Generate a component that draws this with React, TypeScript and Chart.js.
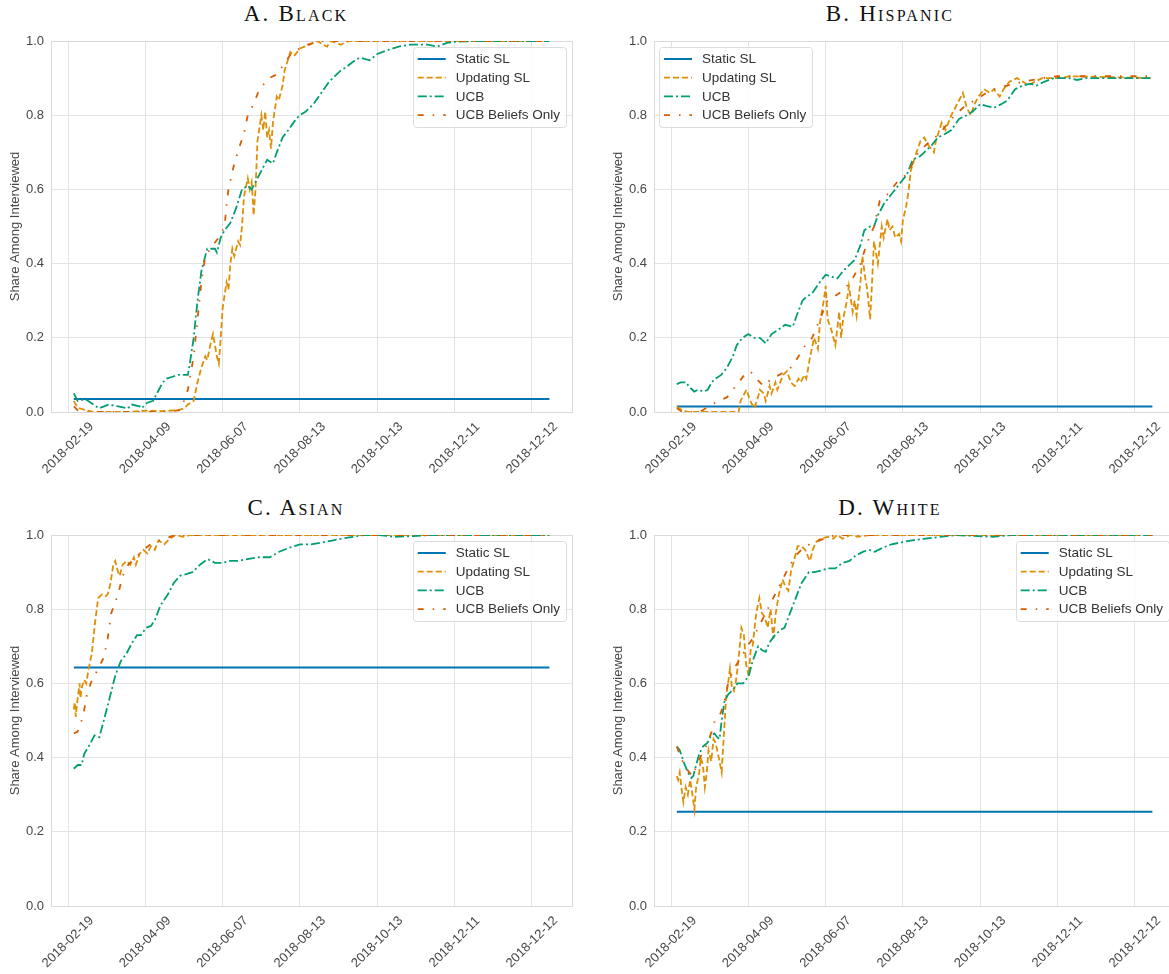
import { useEffect, useRef } from "react";
import { Chart, registerables } from "chart.js";

Chart.register(...registerables);

type Pt = [number, number];

const SANS = "'Liberation Sans', Arial, sans-serif";
const SERIF = "'Liberation Serif', 'DejaVu Serif', serif";

// Shared x axis: observation index, labelled every 40 steps
const tickPositions = [0, 40, 80, 120, 160, 200, 240];
const tickLabels = ["2018-02-19", "2018-04-09", "2018-06-07", "2018-08-13", "2018-10-13", "2018-12-11", "2018-12-12"];
const yTicks = [0, 0.2, 0.4, 0.6, 0.8, 1.0];
const xSpan: Pt = [3, 249];

const seriesNames = ["Static SL", "Updating SL", "UCB", "UCB Beliefs Only"];
const seriesColors = ["#0173b2", "#de8f05", "#029e73", "#d55e00"];
const seriesDashes = [[], [6, 3], [9, 3, 2, 3], [6, 9, 1.5, 9]];
const seriesWidths = [2, 1.8, 1.8, 1.8];

// A. Black
const blackStatic = 0.035;
const blackUpdating: Pt[] = [[3,0.03],[4,0.02],[6,0.01],[9,0.005],[13,0],[30,0],[42,0.004],[48,0.002],[54,0.004],[57,0.005],[60,0.01],[62,0.02],[65,0.03],[67,0.08],[69,0.12],[71,0.15],[72,0.14],[74,0.19],[75,0.21],[76,0.18],[77,0.15],[78,0.13],[79,0.2],[80,0.28],[82,0.35],[83,0.33],[84,0.4],[85,0.44],[86,0.42],[88,0.46],[89,0.45],[90,0.5],[91,0.58],[93,0.63],[94,0.6],[95,0.62],[95.5,0.58],[96,0.53],[97,0.6],[98,0.73],[100,0.8],[101,0.76],[102,0.81],[103,0.74],[104,0.76],[105,0.71],[106,0.78],[108,0.85],[109,0.84],[111,0.88],[112,0.92],[115,0.97],[117,0.96],[120,0.98],[125,0.99],[129,1],[132,0.99],[134,0.985],[136,1],[141,0.99],[145,1],[249,1]];
const blackUCB: Pt[] = [[3,0.05],[5,0.03],[9,0.035],[16,0.01],[21,0.02],[26,0.015],[31,0.01],[33,0.02],[37,0.015],[38,0.01],[41,0.025],[44,0.03],[47,0.06],[49,0.08],[51,0.09],[54,0.095],[57,0.1],[60,0.1],[62,0.1],[63,0.13],[65,0.2],[67,0.3],[69,0.38],[70,0.4],[72,0.44],[76,0.44],[77,0.43],[79,0.47],[81,0.49],[84,0.51],[87,0.55],[90,0.6],[93,0.61],[95,0.6],[97,0.62],[100,0.65],[103,0.68],[106,0.67],[108,0.7],[111,0.74],[114,0.76],[118,0.79],[120,0.8],[123,0.81],[127,0.83],[131,0.86],[135,0.89],[141,0.92],[144,0.93],[149,0.95],[151,0.955],[156,0.948],[160,0.965],[165,0.975],[171,0.985],[177,0.99],[186,0.99],[191,0.985],[196,0.995],[200,0.998],[210,1],[249,1]];
const blackBeliefs: Pt[] = [[3,0.015],[5,0.005],[10,0],[50,0],[58,0.005],[60,0.03],[62,0.06],[65,0.15],[67,0.25],[69,0.35],[71,0.42],[75,0.45],[78,0.47],[81,0.5],[82,0.56],[83,0.6],[86,0.67],[89,0.72],[91,0.75],[93,0.8],[96,0.83],[99,0.87],[104,0.9],[108,0.91],[112,0.94],[116,0.97],[120,0.98],[124,0.99],[130,1],[249,1]];

// B. Hispanic
const hispanicStatic = 0.015;
const hispanicUpdating: Pt[] = [[3,0.015],[4,0.01],[6,0.005],[9,0],[35,0],[36,0.03],[38,0.05],[39,0.06],[41,0.03],[43,0.01],[45,0.04],[46,0.06],[48,0.05],[49,0.03],[51,0.07],[52,0.05],[54,0.08],[55,0.06],[58,0.1],[60,0.11],[62,0.08],[64,0.07],[66,0.09],[67,0.08],[69,0.1],[70,0.09],[72,0.15],[74,0.2],[76,0.17],[77,0.24],[79,0.3],[80,0.34],[81,0.25],[83,0.22],[85,0.18],[87,0.27],[88,0.2],[89,0.25],[91,0.3],[92,0.34],[94,0.27],[95,0.3],[96,0.26],[98,0.35],[99,0.42],[100.5,0.36],[101.5,0.33],[103,0.25],[104,0.35],[105,0.46],[107,0.4],[109,0.5],[110,0.47],[112,0.52],[113,0.49],[114.5,0.5],[116,0.47],[118,0.48],[119,0.46],[120,0.52],[121.5,0.55],[123,0.6],[124,0.65],[127,0.7],[129,0.73],[131,0.74],[133,0.72],[136,0.7],[137,0.73],[140,0.78],[142,0.76],[145,0.8],[147,0.82],[151,0.86],[153,0.82],[155,0.8],[157,0.83],[159,0.85],[162,0.87],[165,0.86],[167,0.87],[170,0.85],[172,0.87],[175,0.89],[179,0.9],[182,0.89],[185,0.88],[188,0.89],[192,0.9],[202,0.9],[206,0.905],[249,0.9]];
const hispanicUCB: Pt[] = [[3,0.075],[5,0.08],[8,0.08],[9,0.07],[11,0.06],[12,0.055],[14,0.06],[17,0.055],[19,0.06],[21,0.08],[23,0.09],[26,0.1],[29,0.12],[32,0.15],[34,0.18],[37,0.2],[40,0.21],[43,0.2],[46,0.2],[49,0.185],[52,0.21],[55,0.22],[59,0.235],[63,0.23],[65,0.26],[68,0.3],[70,0.31],[73,0.32],[77,0.35],[80,0.37],[83,0.365],[86,0.36],[89,0.38],[92,0.395],[95,0.41],[98,0.45],[100,0.49],[103,0.5],[105,0.5],[107,0.53],[110,0.56],[113,0.58],[116,0.6],[119,0.62],[122,0.64],[125,0.68],[129,0.69],[131,0.7],[135,0.72],[138,0.74],[142,0.75],[145,0.76],[149,0.79],[153,0.8],[156,0.81],[160,0.83],[163,0.825],[167,0.82],[171,0.83],[174,0.84],[178,0.87],[182,0.88],[186,0.885],[189,0.88],[193,0.89],[198,0.9],[206,0.9],[210,0.895],[215,0.9],[249,0.9]];
const hispanicBeliefs: Pt[] = [[3,0.01],[6,0],[15,0],[21,0.02],[29,0.04],[35,0.08],[38,0.1],[41,0.11],[44,0.09],[48,0.07],[52,0.09],[56,0.1],[62,0.12],[66,0.15],[68,0.17],[73,0.2],[77,0.25],[81,0.3],[87,0.32],[93,0.35],[98,0.4],[101,0.45],[105,0.5],[108,0.57],[111,0.58],[114,0.6],[117,0.62],[120,0.63],[124,0.66],[128,0.7],[134,0.73],[139,0.75],[145,0.79],[151,0.82],[157,0.84],[163,0.86],[167,0.87],[174,0.88],[182,0.89],[192,0.9],[200,0.905],[249,0.905]];

// C. Asian
const asianStatic = 0.643;
const asianUpdating: Pt[] = [[3,0.53],[3.5,0.55],[4,0.51],[5,0.56],[6,0.6],[6.4,0.56],[7.2,0.59],[8.4,0.61],[9.4,0.6],[10.7,0.64],[12.3,0.68],[13.9,0.76],[15.6,0.83],[17.6,0.84],[19.5,0.835],[20.5,0.84],[22,0.87],[23.4,0.92],[24.4,0.93],[25.9,0.9],[26.7,0.89],[28.3,0.92],[30.2,0.93],[32.2,0.92],[34.1,0.94],[35.1,0.92],[37.1,0.95],[39,0.96],[41,0.95],[42.9,0.97],[44.9,0.96],[46.8,0.985],[49.8,0.975],[52.7,0.99],[55.6,1],[59.5,0.995],[63.4,1],[249,1]];
const asianUCB: Pt[] = [[3,0.37],[5,0.38],[7,0.38],[8.4,0.41],[10.7,0.43],[13.7,0.46],[16.2,0.455],[18.5,0.5],[21.5,0.56],[24.4,0.62],[27.3,0.66],[30.2,0.68],[33.2,0.71],[35.7,0.73],[37.7,0.73],[40.4,0.75],[42.9,0.755],[44.9,0.77],[47.8,0.81],[51.7,0.84],[54.6,0.87],[57.9,0.89],[61.5,0.895],[64.4,0.9],[68.3,0.92],[72.2,0.935],[76.1,0.925],[80,0.925],[83.9,0.93],[87.8,0.93],[92.7,0.935],[98.6,0.94],[104.4,0.94],[109.3,0.955],[114.1,0.965],[120,0.975],[125.8,0.975],[131.7,0.98],[136.6,0.985],[141.4,0.99],[147.3,0.995],[153.2,1],[161,1],[168.8,0.995],[178.5,0.997],[188.3,1],[249,1]];
const asianBeliefs: Pt[] = [[3,0.465],[5,0.47],[7,0.5],[8.4,0.53],[9.8,0.57],[11.7,0.6],[13.7,0.62],[15.6,0.64],[18.5,0.67],[20.5,0.72],[22.4,0.79],[25.9,0.84],[28.3,0.89],[31.2,0.92],[35.1,0.94],[39,0.96],[43.9,0.98],[49.8,0.99],[55.6,1],[249,1]];

// D. White
const whiteStatic = 0.254;
const whiteUpdating: Pt[] = [[3,0.35],[3.7,0.34],[4.5,0.36],[5.6,0.31],[6.4,0.28],[7.6,0.32],[8.7,0.3],[9.9,0.34],[11.1,0.3],[12.1,0.26],[13,0.32],[14.6,0.36],[15.4,0.4],[16.5,0.38],[17.5,0.32],[18.5,0.36],[19.4,0.42],[20.8,0.39],[22,0.45],[23.1,0.44],[24.7,0.4],[26.2,0.36],[27.2,0.45],[28.6,0.57],[29.5,0.6],[30.5,0.64],[31.5,0.59],[32.5,0.58],[33.4,0.6],[34.4,0.64],[35.4,0.69],[36.4,0.75],[37.7,0.73],[38.9,0.65],[40.2,0.62],[41.2,0.69],[42.2,0.7],[44.1,0.79],[45.7,0.83],[47,0.79],[48.4,0.78],[50,0.75],[51.5,0.8],[52.9,0.72],[54.2,0.79],[55.8,0.84],[57.7,0.88],[59.3,0.86],[60.7,0.85],[62,0.9],[63.6,0.93],[65.5,0.97],[67.5,0.97],[69.4,0.96],[71,0.94],[71.9,0.93],[73.3,0.96],[74.8,0.98],[77.2,0.99],[81.1,0.995],[84,0.99],[85.9,1],[88.8,0.99],[92.7,1],[96.6,0.995],[102.4,1],[249,1]];
const whiteUCB: Pt[] = [[3,0.43],[4.5,0.42],[6.4,0.39],[8.7,0.36],[10.5,0.345],[11.5,0.35],[13,0.38],[14.6,0.41],[16.5,0.43],[18.9,0.44],[20.8,0.46],[22.4,0.465],[23.9,0.455],[25.1,0.45],[26.2,0.5],[27.6,0.55],[29.5,0.57],[31.5,0.58],[34.4,0.6],[37.3,0.6],[40.2,0.62],[42.2,0.66],[45.1,0.7],[47,0.69],[49,0.685],[50.9,0.71],[53.8,0.73],[56.8,0.745],[58.7,0.75],[61.6,0.79],[64.5,0.83],[67.5,0.87],[71.3,0.9],[74.3,0.9],[78.1,0.905],[81.1,0.91],[85,0.91],[88.8,0.925],[92.3,0.93],[95.6,0.945],[99.5,0.955],[102.4,0.96],[105.4,0.955],[109.3,0.965],[114.1,0.975],[119,0.98],[123.8,0.985],[131.6,0.99],[139.4,0.995],[147.2,1],[166.6,0.995],[176.3,1],[249,1]];
const whiteBeliefs: Pt[] = [[3,0.43],[3.7,0.42],[5,0.4],[8,0.37],[11,0.35],[15,0.4],[19,0.44],[21,0.47],[22.7,0.5],[25.7,0.52],[27.6,0.55],[29.5,0.6],[32.5,0.64],[36.4,0.67],[39.3,0.7],[42.2,0.72],[46.1,0.76],[50,0.8],[53.8,0.84],[57.7,0.88],[61.6,0.92],[65.5,0.95],[69.4,0.97],[74.3,0.98],[79.1,0.99],[85,1],[249,1]];

type Panel = {
  title: string;
  left: number;
  top: number;
  titleCenter: number;
  titleTop: number;
  legendSide: "left" | "right";
  staticLevel: number;
  updating: Pt[];
  ucb: Pt[];
  beliefs: Pt[];
};

const panels: Panel[] = [
  { title: "A. Black", left: 0, top: 25, titleCenter: 296, titleTop: 2, legendSide: "right", staticLevel: blackStatic, updating: blackUpdating, ucb: blackUCB, beliefs: blackBeliefs },
  { title: "B. Hispanic", left: 603, top: 25, titleCenter: 890, titleTop: 2, legendSide: "left", staticLevel: hispanicStatic, updating: hispanicUpdating, ucb: hispanicUCB, beliefs: hispanicBeliefs },
  { title: "C. Asian", left: 0, top: 519, titleCenter: 296, titleTop: 496, legendSide: "right", staticLevel: asianStatic, updating: asianUpdating, ucb: asianUCB, beliefs: asianBeliefs },
  { title: "D. White", left: 603, top: 519, titleCenter: 890, titleTop: 496, legendSide: "right", staticLevel: whiteStatic, updating: whiteUpdating, ucb: whiteUCB, beliefs: whiteBeliefs },
];

const CANVAS_W = 585;
const CANVAS_H = 455;
const GRID = "#e3e3e3";
const SPINE = "#dadada";
const TEXT = "#474747";

// Light frame around the plotting area (all four sides)
const frame = {
  id: "frame",
  beforeDatasetsDraw(chart: any) {
    const { ctx, chartArea } = chart;
    ctx.save();
    ctx.strokeStyle = SPINE;
    ctx.lineWidth = 1;
    ctx.strokeRect(
      Math.round(chartArea.left) + 0.5,
      Math.round(chartArea.top) + 0.5,
      Math.round(chartArea.right - chartArea.left),
      Math.round(chartArea.bottom - chartArea.top)
    );
    ctx.restore();
  },
};

// Date labels turned 45 degrees and centred under their tick
const rotatedXLabels = {
  id: "rotatedXLabels",
  afterDraw(chart: any) {
    const { ctx, chartArea, scales } = chart;
    const x = scales.x;
    ctx.save();
    ctx.font = `13px ${SANS}`;
    ctx.fillStyle = TEXT;
    ctx.textAlign = "center";
    ctx.textBaseline = "middle";
    tickPositions.forEach((p, i) => {
      const px = x.getPixelForValue(p);
      ctx.save();
      ctx.translate(px, chartArea.bottom + 36);
      ctx.rotate(-Math.PI / 4);
      ctx.fillText(tickLabels[i], 0, 0);
      ctx.restore();
    });
    ctx.restore();
  },
};

// Boxed legend placed inside the plotting area
const insetLegend = {
  id: "insetLegend",
  afterDatasetsDraw(chart: any, _args: any, opts: any) {
    const { ctx, chartArea } = chart;
    const datasets = chart.data.datasets;
    ctx.save();
    ctx.font = `13.5px ${SANS}`;
    const textW = Math.max(...datasets.map((d: any) => ctx.measureText(d.label).width));
    const w = 5 + 28 + 10 + textW + 6;
    const h = 80;
    const x0 = opts.side === "left" ? chartArea.left + 5 : chartArea.right - 6 - w;
    const y0 = chartArea.top + 6;
    ctx.beginPath();
    ctx.roundRect(Math.round(x0) + 0.5, Math.round(y0) + 0.5, Math.round(w), h, 3);
    ctx.fillStyle = "rgba(255,255,255,0.82)";
    ctx.fill();
    ctx.strokeStyle = "#dcdcdc";
    ctx.lineWidth = 1;
    ctx.stroke();
    datasets.forEach((ds: any, i: number) => {
      const cy = y0 + 12 + i * 18.7;
      ctx.setLineDash(ds.borderDash || []);
      ctx.strokeStyle = ds.borderColor;
      ctx.lineWidth = ds.borderWidth;
      ctx.beginPath();
      ctx.moveTo(x0 + 5, cy);
      ctx.lineTo(x0 + 33, cy);
      ctx.stroke();
      ctx.setLineDash([]);
      ctx.fillStyle = "#333";
      ctx.textAlign = "left";
      ctx.textBaseline = "middle";
      ctx.fillText(ds.label, x0 + 43, cy + 0.5);
    });
    ctx.restore();
  },
};

function toXY(pts: Pt[]) {
  return pts.map(([x, y]) => ({ x, y }));
}

function PanelChart({ panel }: { panel: Panel }) {
  const ref = useRef<HTMLCanvasElement | null>(null);

  useEffect(() => {
    if (!ref.current) return;
    const staticLine: Pt[] = [[xSpan[0], panel.staticLevel], [xSpan[1], panel.staticLevel]];
    const seriesData = [staticLine, panel.updating, panel.ucb, panel.beliefs];
    const chart = new Chart(ref.current, {
      type: "line",
      data: {
        datasets: seriesData.map((pts, i) => ({
          label: seriesNames[i],
          data: toXY(pts),
          borderColor: seriesColors[i],
          backgroundColor: seriesColors[i],
          borderWidth: seriesWidths[i],
          borderDash: seriesDashes[i],
          pointRadius: 0,
          fill: false,
          tension: 0,
          order: 4 - i,
        })),
      },
      options: {
        responsive: false,
        animation: false,
        devicePixelRatio: 1,
        events: [],
        layout: { padding: { top: 16, right: 13, left: 0, bottom: 0 } },
        scales: {
          x: {
            type: "linear",
            min: -8.8,
            max: 260.7,
            afterBuildTicks: (s: any) => {
              s.ticks = tickPositions.map((v) => ({ value: v }));
            },
            afterFit: (s: any) => {
              s.height = CANVAS_H - 387;
            },
            ticks: { display: false },
            grid: { color: GRID, lineWidth: 1, drawTicks: false },
            border: { display: false },
          },
          y: {
            type: "linear",
            min: 0,
            max: 1,
            afterBuildTicks: (s: any) => {
              s.ticks = yTicks.map((v) => ({ value: v }));
            },
            afterFit: (s: any) => {
              s.width = 51;
            },
            ticks: {
              callback: (v: any) => Number(v).toFixed(1),
              color: TEXT,
              font: { family: SANS, size: 13 },
              padding: 7,
            },
            grid: { color: GRID, lineWidth: 1, drawTicks: false },
            border: { display: false },
            title: {
              display: true,
              text: "Share Among Interviewed",
              color: TEXT,
              font: { family: SANS, size: 13 },
              padding: { top: 8, bottom: 0 },
            },
          },
        },
        plugins: {
          legend: { display: false },
          tooltip: { enabled: false },
          insetLegend: { side: panel.legendSide },
        } as any,
      },
      plugins: [frame, rotatedXLabels, insetLegend],
    });
    return () => chart.destroy();
  }, [panel]);

  return (
    <>
      <div
        style={{
          position: "absolute",
          left: panel.titleCenter - 200,
          top: panel.titleTop,
          width: 400,
          textAlign: "center",
          fontFamily: SERIF,
          fontVariant: "small-caps",
          fontSize: 23,
          lineHeight: "23px",
          letterSpacing: "2.2px",
          color: "#111",
        }}
      >
        {panel.title}
      </div>
      <canvas
        ref={ref}
        width={CANVAS_W}
        height={CANVAS_H}
        style={{ position: "absolute", left: panel.left, top: panel.top, width: CANVAS_W, height: CANVAS_H, display: "block" }}
      />
    </>
  );
}

export default function App() {
  return (
    <div
      style={{
        position: "absolute",
        left: 0,
        top: 0,
        width: 1169,
        height: 974,
        overflow: "hidden",
        background: "#fff",
      }}
    >
      {panels.map((p) => (
        <PanelChart key={p.title} panel={p} />
      ))}
    </div>
  );
}
